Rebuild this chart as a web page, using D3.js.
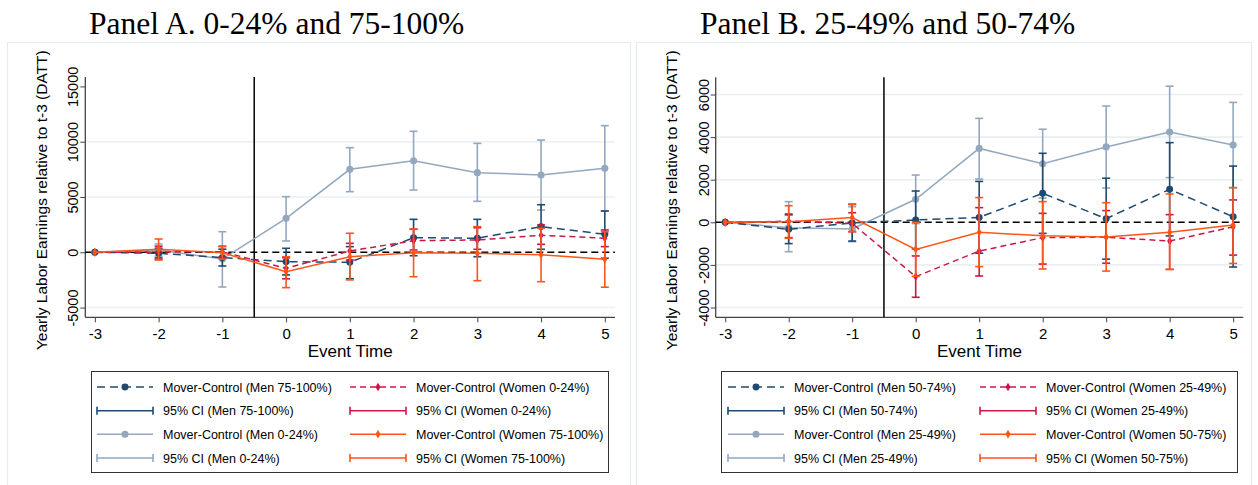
<!DOCTYPE html>
<html>
<head>
<meta charset="utf-8">
<script src="https://cdn.jsdelivr.net/npm/d3@7"></script>
<style>
  body { margin: 0; background: #fff; }
  text { font-family: "Liberation Sans", Arial, sans-serif; fill: #000; }
  .title { font-family: "Liberation Serif", "Times New Roman", serif; }
</style>
</head>
<body>
<div class="visholder"></div>
<script>
// event time (years relative to move)
const eventTime = [-3, -2, -1, 0, 1, 2, 3, 4, 5];

// Panel A: 0-24% and 75-100%
const aMenHighEst = [0, -90, -480, -850, -900, 1320, 1270, 2320, 1630];
const aMenHighLo  = [0, -630, -1240, -2050, -2390, -310, -400, 270, -540];
const aMenHighHi  = [0, 360, 280, 360, 510, 2980, 2980, 4300, 3730];
const aWomenLowEst = [0, 30, 50, -1450, 120, 1050, 1110, 1540, 1270];
const aWomenLowLo  = [0, -500, -450, -2400, -700, 210, 270, 720, 510];
const aWomenLowHi  = [0, 550, 550, -500, 810, 2080, 2220, 2470, 2020];
const aMenLowEst = [0, 200, -610, 3070, 7500, 8280, 7200, 6990, 7590];
const aMenLowLo  = [0, -350, -3140, 1020, 5480, 5630, 4610, 3820, 3740];
const aMenLowHi  = [0, 750, 1860, 5030, 9460, 10940, 9850, 10150, 11450];
const aWomenHighEst = [0, 270, -40, -1750, -400, -40, -90, -220, -630];
const aWomenHighLo  = [0, -700, -610, -3200, -2500, -2210, -2570, -2660, -3160];
const aWomenHighHi  = [0, 1200, 510, -400, 1720, 2110, 2320, 2170, 1860];

// Panel B: 25-49% and 50-74%
const bMenHighEst = [0, -330, -30, 110, 230, 1360, 170, 1550, 260];
const bMenHighLo  = [0, -1000, -880, -1250, -1450, -520, -1730, -640, -2100];
const bMenHighHi  = [0, 350, 850, 1470, 1920, 3240, 2070, 3740, 2640];
const bWomenLowEst = [0, 50, -50, -2550, -1350, -720, -700, -880, -210];
const bWomenLowLo  = [0, -720, -440, -3520, -2520, -1960, -1920, -2210, -1540];
const bWomenLowHi  = [0, 390, 450, -1580, 690, 420, 550, 360, 1050];
const bMenLowEst = [0, -250, -310, 1080, 3470, 2750, 3540, 4240, 3630];
const bMenLowLo  = [0, -1380, -910, -60, 2030, 1140, 1610, 2100, 1620];
const bMenLowHi  = [0, 970, 730, 2220, 4880, 4370, 5460, 6390, 5630];
const bWomenHighEst = [0, 30, 220, -1270, -470, -630, -690, -470, -130];
const bWomenHighLo  = [0, -750, -440, -2540, -2080, -2190, -2290, -2210, -1930];
const bWomenHighHi  = [0, 780, 830, 0, 1160, 970, 920, 1330, 1630];

const yTicksA = [-5000, 0, 5000, 10000, 15000];
const yTicksB = [-4000, -2000, 0, 2000, 4000, 6000];

const legendA = ["Mover-Control (Men 75-100%)", "Mover-Control (Women 0-24%)",
                 "95% CI (Men 75-100%)", "95% CI (Women 0-24%)",
                 "Mover-Control (Men 0-24%)", "Mover-Control (Women 75-100%)",
                 "95% CI (Men 0-24%)", "95% CI (Women 75-100%)"];
const legendB = ["Mover-Control (Men 50-74%)", "Mover-Control (Women 25-49%)",
                 "95% CI (Men 50-74%)", "95% CI (Women 25-49%)",
                 "Mover-Control (Men 25-49%)", "Mover-Control (Women 50-75%)",
                 "95% CI (Men 25-49%)", "95% CI (Women 50-75%)"];
// which style / kind each legend entry shows (row-wise, 2 columns)
const legendKeys = [["navy", "mc"], ["crimson", "mc"], ["navy", "ci"], ["crimson", "ci"],
                    ["light", "mc"], ["orange", "mc"], ["light", "ci"], ["orange", "ci"]];

const styles = {
    navy:    { color: "#1f4a70", dash: "8,5", marker: "circle", size: 38 },
    crimson: { color: "#cc1744", dash: "6,4", marker: "diamond", size: 22 },
    light:   { color: "#93a8be", dash: null, marker: "circle", size: 40 },
    orange:  { color: "#ff5518", dash: null, marker: "diamond", size: 22 }
};

const panels = [
    {
        title: "Panel A. 0-24% and 75-100%", titleX: 89,
        frame: [7.5, 42.5, 623],
        left: 85.3, right: 615, top: 77, bottom: 317.3,
        yDomain: [-5880, 15850], yTicks: yTicksA, yLabelX: 47,
        series: [
            { style: "light", est: aMenLowEst, lo: aMenLowLo, hi: aMenLowHi },
            { style: "navy", est: aMenHighEst, lo: aMenHighLo, hi: aMenHighHi },
            { style: "crimson", est: aWomenLowEst, lo: aWomenLowLo, hi: aWomenLowHi },
            { style: "orange", est: aWomenHighEst, lo: aWomenHighLo, hi: aWomenHighHi }
        ],
        legend: legendA, legendBox: [91.5, 371.5, 517, 101], legendCols: [97, 350]
    },
    {
        title: "Panel B. 25-49% and 50-74%", titleX: 700,
        frame: [636.5, 42.5, 615],
        left: 715.7, right: 1243.3, top: 77.3, bottom: 317.3,
        yDomain: [-4460, 6808], yTicks: yTicksB, yLabelX: 677,
        series: [
            { style: "light", est: bMenLowEst, lo: bMenLowLo, hi: bMenLowHi },
            { style: "navy", est: bMenHighEst, lo: bMenHighLo, hi: bMenHighHi },
            { style: "crimson", est: bWomenLowEst, lo: bWomenLowLo, hi: bWomenLowHi },
            { style: "orange", est: bWomenHighEst, lo: bWomenHighLo, hi: bWomenHighHi }
        ],
        legend: legendB, legendBox: [721.5, 371.5, 516, 101], legendCols: [728, 980]
    }
];

const width = 1258, height = 485;
const plainNum = function (d) { return String(d); };

const svg = d3.select(".visholder")
    .append("svg")
    .attr("width", width)
    .attr("height", height);

function markerPath(st) {
    const type = st.marker === "circle" ? d3.symbolCircle : d3.symbolDiamond;
    return d3.symbol().type(type).size(st.size)();
}

panels.forEach(function (p) {
    const g = svg.append("g");

    // outer frame of the panel
    g.append("rect")
        .attr("x", p.frame[0]).attr("y", p.frame[1])
        .attr("width", p.frame[2]).attr("height", height)
        .attr("fill", "none").attr("stroke", "#e4ecee").attr("stroke-width", 1.2);

    g.append("text")
        .attr("class", "title")
        .attr("x", p.titleX).attr("y", 34)
        .style("font-size", "31.5px")
        .text(p.title);

    const x = d3.scaleLinear().domain([-3.15, 5.16]).range([p.left, p.right]);
    const y = d3.scaleLinear().domain(p.yDomain).range([p.bottom, p.top]);

    // gridlines
    g.append("g").selectAll("line")
        .data(p.yTicks.filter(function (d) { return d !== 0 && y(d) > p.top + 15; }))
        .enter().append("line")
        .attr("x1", p.left).attr("x2", p.right)
        .attr("y1", function (d) { return y(d); })
        .attr("y2", function (d) { return y(d); })
        .attr("stroke", "#e9f0f2").attr("stroke-width", 1.6);

    // axes
    const yAxis = g.append("g")
        .attr("transform", `translate(${p.left},0)`)
        .call(d3.axisLeft(y).tickValues(p.yTicks).tickFormat(plainNum).tickSize(5).tickSizeOuter(0));
    yAxis.select(".domain").attr("d", `M0,${p.top}V${p.bottom}`);
    yAxis.selectAll("line").attr("stroke", "#444");
    yAxis.selectAll(".domain").attr("stroke", "#444").attr("stroke-width", 1.3);
    yAxis.selectAll("text")
        .attr("x", 0).attr("dy", 0)
        .attr("transform", "translate(-7,0) rotate(-90)")
        .style("text-anchor", "middle")
        .style("font-size", "14.5px")
        .style("font-family", "'Liberation Sans', Arial, sans-serif");

    const xAxis = g.append("g")
        .attr("transform", `translate(0,${p.bottom})`)
        .call(d3.axisBottom(x).tickValues(eventTime).tickFormat(plainNum).tickSize(5).tickSizeOuter(0));
    xAxis.select(".domain").attr("d", `M${p.left},0H${p.right}`)
        .attr("stroke", "#444").attr("stroke-width", 1.3);
    xAxis.selectAll("line").attr("stroke", "#444");
    xAxis.selectAll("text")
        .attr("y", 21.5).attr("dy", 0)
        .style("font-size", "15px")
        .style("font-family", "'Liberation Sans', Arial, sans-serif");

    g.append("text")
        .attr("x", (p.left + p.right) / 2).attr("y", 357)
        .style("text-anchor", "middle").style("font-size", "17px")
        .text("Event Time");

    g.append("text")
        .attr("transform", `translate(${p.yLabelX},${(p.top + p.bottom) / 2 + 3}) rotate(-90)`)
        .style("text-anchor", "middle").style("font-size", "15.5px")
        .text("Yearly Labor Earnings relative to t-3 (DATT)");

    // reference lines
    g.append("line")
        .attr("x1", p.left).attr("x2", p.right)
        .attr("y1", y(0)).attr("y2", y(0))
        .attr("stroke", "#000").attr("stroke-width", 1.5)
        .attr("stroke-dasharray", "7,4");
    g.append("line")
        .attr("x1", x(-0.5)).attr("x2", x(-0.5))
        .attr("y1", p.top).attr("y2", p.bottom)
        .attr("stroke", "#000").attr("stroke-width", 1.5);

    // series: confidence intervals then connected estimates
    p.series.forEach(function (s) {
        const st = styles[s.style];
        const rows = eventTime.map(function (t, i) {
            return { t: t, est: s.est[i], lo: s.lo[i], hi: s.hi[i] };
        });
        const ci = g.append("g")
            .selectAll("g")
            .data(rows.filter(function (d) { return d.hi !== d.lo; }))
            .enter().append("g")
            .attr("stroke", st.color).attr("stroke-width", 1.6);
        ci.append("line")
            .attr("x1", function (d) { return x(d.t); })
            .attr("x2", function (d) { return x(d.t); })
            .attr("y1", function (d) { return y(d.lo); })
            .attr("y2", function (d) { return y(d.hi); });
        ci.append("line")
            .attr("x1", function (d) { return x(d.t) - 4; })
            .attr("x2", function (d) { return x(d.t) + 4; })
            .attr("y1", function (d) { return y(d.lo); })
            .attr("y2", function (d) { return y(d.lo); });
        ci.append("line")
            .attr("x1", function (d) { return x(d.t) - 4; })
            .attr("x2", function (d) { return x(d.t) + 4; })
            .attr("y1", function (d) { return y(d.hi); })
            .attr("y2", function (d) { return y(d.hi); });

        const line = d3.line()
            .x(function (d) { return x(d.t); })
            .y(function (d) { return y(d.est); });
        g.append("path")
            .datum(rows)
            .attr("d", line)
            .attr("fill", "none")
            .attr("stroke", st.color)
            .attr("stroke-width", 1.5)
            .attr("stroke-dasharray", st.dash);
        g.append("g").selectAll("path")
            .data(rows)
            .enter().append("path")
            .attr("d", markerPath(st))
            .attr("transform", function (d) { return `translate(${x(d.t)},${y(d.est)})`; })
            .attr("fill", st.color);
    });

    // legend
    const lb = p.legendBox;
    g.append("rect")
        .attr("x", lb[0]).attr("y", lb[1]).attr("width", lb[2]).attr("height", lb[3])
        .attr("fill", "#fff").attr("stroke", "#333").attr("stroke-width", 1);

    const rowY = [387, 410.7, 434.2, 458];
    const items = g.append("g").selectAll("g")
        .data(p.legend)
        .enter().append("g")
        .attr("transform", function (d, i) {
            return `translate(${p.legendCols[i % 2]},${rowY[Math.floor(i / 2)]})`;
        });
    items.each(function (d, i) {
        const it = d3.select(this);
        const st = styles[legendKeys[i][0]];
        if (legendKeys[i][1] === "mc") {
            it.append("line")
                .attr("x1", 0).attr("x2", 56).attr("y1", 0).attr("y2", 0)
                .attr("stroke", st.color).attr("stroke-width", 1.5)
                .attr("stroke-dasharray", st.dash);
            it.append("path").attr("d", markerPath(st))
                .attr("transform", "translate(28,0)").attr("fill", st.color);
        } else {
            it.append("path")
                .attr("d", "M0,-4V4M0,0H56M56,-4V4")
                .attr("fill", "none")
                .attr("stroke", st.color).attr("stroke-width", 1.6);
        }
        it.append("text")
            .attr("x", 66).attr("y", 4.5)
            .style("font-size", "12.5px")
            .text(d);
    });
});
</script>
</body>
</html>
